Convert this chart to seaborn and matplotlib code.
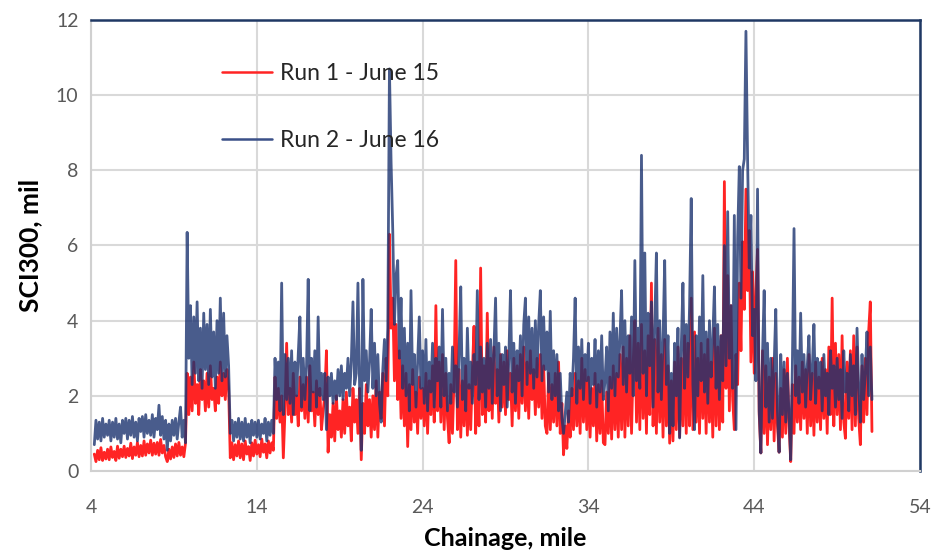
import numpy as np
import pandas as pd
import matplotlib
matplotlib.use("Agg")
import matplotlib.pyplot as plt
import seaborn as sns

# Chainage sampled every 0.1 mile, from 4.2 to 51.1
chainage_start = 4.2
chainage_step = 0.1

# SCI300 (mil), Run 1 - June 15; one row per mile
run1_sci = [
    0.45, 0.25, 0.55, 0.3, 0.62, 0.28, 0.5, 0.32,                  # 4.2-4.9
    0.58, 0.3, 0.64, 0.36, 0.52, 0.28, 0.66, 0.34, 0.58, 0.38,       # 5
    0.66, 0.36, 0.6, 0.4, 0.74, 0.33, 0.64, 0.42, 0.76, 0.38,        # 6
    0.68, 0.4, 0.8, 0.42, 0.72, 0.48, 0.82, 0.42, 0.74, 0.45,        # 7
    0.76, 0.42, 0.84, 0.48, 0.68, 0.38, 0.25, 0.58, 0.32, 0.64,      # 8
    0.36, 0.72, 0.4, 0.76, 0.42, 0.64, 0.38, 0.74, 2.6, 1.5,         # 9
    2.5, 1.6, 2.9, 1.8, 2.3, 1.5, 2.7, 1.9, 2.4, 1.6,                # 10
    2.6, 1.7, 2.8, 1.9, 2.2, 1.6, 2.5, 1.8, 2.9, 2.0,                # 11
    2.6, 1.9, 2.7, 2.2, 0.35, 0.75, 0.3, 0.7, 0.4, 0.8,              # 12
    0.35, 0.72, 0.3, 0.8, 0.45, 0.65, 0.28, 0.75, 0.4, 0.82,         # 13
    0.45, 0.7, 0.38, 0.85, 0.5, 0.72, 0.35, 0.8, 0.48, 0.75,         # 14
    0.55, 2.5, 1.4, 2.2, 1.3, 2.0, 0.35, 1.6, 3.4, 1.5,              # 15
    2.2, 1.3, 2.6, 1.5, 2.0, 1.2, 2.5, 1.6, 2.3, 1.4,                # 16
    2.5, 1.3, 2.8, 1.6, 2.1, 1.2, 2.4, 1.5, 2.2, 1.1,                # 17
    1.6, 2.0, 3.2, 0.5, 1.5, 0.9, 1.8, 0.8, 2.0, 1.1,                # 18
    1.6, 0.9, 1.9, 1.0, 2.1, 1.2, 1.7, 0.8, 2.2, 1.3,                # 19
    1.9, 1.0, 2.2, 0.3, 1.8, 1.0, 2.3, 1.2, 1.9, 0.9,                # 20
    2.0, 1.1, 2.4, 0.9, 2.1, 1.4, 2.6, 1.2, 3.0, 2.0,                # 21
    6.3, 3.8, 4.6, 2.4, 3.9, 1.9, 3.2, 1.4, 2.8, 1.2,                # 22
    2.6, 0.65, 2.3, 1.1, 2.7, 1.3, 2.1, 1.0, 2.5, 1.4,               # 23
    2.2, 1.2, 2.6, 1.0, 2.4, 1.5, 2.8, 1.3, 4.4, 1.6,                # 24
    2.9, 1.3, 3.1, 1.1, 2.6, 1.4, 0.75, 2.3, 1.0, 2.5,               # 25
    5.6, 1.1, 2.7, 0.9, 2.4, 1.2, 2.8, 0.95, 2.3, 1.1,               # 26
    2.6, 3.85, 1.0, 2.9, 1.2, 5.4, 1.5, 2.8, 1.3, 4.2,               # 27
    1.6, 3.0, 1.4, 3.3, 1.8, 2.7, 1.3, 3.1, 1.7, 2.9,                # 28
    1.5, 3.2, 1.9, 2.6, 1.2, 3.0, 1.6, 2.8, 1.4, 3.1,                # 29
    1.8, 3.3, 1.6, 2.9, 1.4, 3.2, 1.9, 2.7, 1.5, 3.0,                # 30
    1.7, 3.1, 1.4, 2.8, 1.2, 1.0, 2.6, 1.1, 2.3, 1.3,                # 31
    2.6, 1.2, 2.9, 1.0, 1.8, 0.43, 1.2, 0.6, 1.6, 0.9,               # 32
    2.2, 1.1, 2.6, 1.2, 2.4, 1.0, 3.0, 1.3, 2.7, 1.1,                # 33
    2.5, 0.9, 2.2, 1.2, 2.6, 0.8, 2.3, 1.0, 2.4, 0.75,               # 34
    0.7, 2.1, 1.0, 2.5, 0.85, 2.8, 1.1, 2.6, 0.9, 3.1,               # 35
    1.1, 3.3, 0.9, 3.0, 1.2, 3.6, 1.0, 2.9, 4.0, 1.3,                # 36
    3.4, 1.1, 3.9, 1.4, 3.2, 1.0, 3.6, 1.5, 5.0, 1.2,                # 37
    3.5, 1.0, 3.8, 1.3, 3.1, 0.9, 3.5, 1.2, 2.8, 0.74,               # 38
    2.4, 0.8, 2.9, 1.1, 3.3, 0.9, 3.0, 1.2, 3.6, 1.0,                # 39
    3.4, 1.2, 4.6, 1.1, 3.7, 1.3, 3.0, 1.0, 3.4, 1.4,                # 40
    3.1, 1.0, 3.5, 1.3, 2.9, 0.9, 3.8, 1.2, 3.3, 1.1,                # 41
    3.6, 1.3, 7.7, 2.2, 5.2, 1.6, 4.4, 1.9, 1.1, 3.1,                # 42
    2.3, 5.0, 3.2, 6.1, 4.3, 7.5, 4.8, 6.4, 2.9, 5.3,                # 43
    2.6, 4.8, 5.9, 1.5, 0.48, 3.2, 1.0, 2.8, 0.7, 2.5,               # 44
    1.1, 3.0, 0.8, 2.6, 1.2, 0.5, 2.2, 0.9, 2.7, 1.0,                # 45
    3.0, 1.2, 0.25, 2.3, 1.0, 2.8, 1.3, 2.5, 1.1, 2.9,               # 46
    1.4, 2.7, 1.0, 3.1, 1.2, 2.6, 0.95, 2.9, 1.3, 2.5,               # 47
    1.1, 3.0, 1.4, 2.7, 1.0, 3.3, 1.5, 4.6, 1.2, 3.4,                # 48
    1.5, 3.1, 1.1, 3.6, 1.3, 0.87, 2.9, 1.4, 3.2, 1.1,               # 49
    3.6, 1.2, 3.3, 1.4, 0.7, 2.8, 1.3, 3.0, 1.5, 3.7,                # 50
    4.5, 1.05,                                                       # 51.0-51.1
]

# SCI300 (mil), Run 2 - June 16; one row per mile
run2_sci = [
    0.7, 1.35, 0.85, 1.3, 0.8, 1.4, 0.9, 1.25,                       # 4.2-4.9
    0.95, 1.35, 0.8, 1.3, 0.9, 1.4, 0.85, 1.25, 0.75, 1.35,          # 5
    1.0, 1.4, 0.85, 1.35, 0.95, 1.45, 0.9, 1.3, 0.8, 1.4,            # 6
    1.05, 1.45, 0.9, 1.5, 1.0, 1.35, 0.95, 1.5, 0.9, 1.4,            # 7
    1.1, 1.75, 0.95, 1.45, 0.85, 1.35, 0.55, 1.25, 0.8, 1.35,        # 8
    0.95, 1.4, 0.85, 1.3, 1.7, 0.9, 1.35, 0.75, 6.35, 3.0,           # 9
    4.4, 2.3, 4.1, 2.6, 4.5, 2.4, 3.8, 2.2, 4.2, 2.7,                # 10
    3.9, 2.3, 4.3, 2.5, 3.7, 2.2, 4.0, 2.6, 4.6, 2.4,                # 11
    4.2, 2.5, 3.6, 2.8, 1.0, 1.35, 0.8, 1.3, 0.9, 1.4,               # 12
    0.85, 1.3, 0.8, 1.4, 0.9, 1.25, 0.75, 1.35, 0.95, 1.3,           # 13
    0.9, 1.35, 0.85, 1.25, 1.0, 1.4, 0.8, 1.3, 0.95, 1.35,           # 14
    1.0, 3.0, 1.9, 2.9, 1.6, 5.0, 1.5, 3.1, 1.9, 3.0,                # 15
    1.8, 3.2, 1.5, 2.9, 2.0, 3.1, 4.1, 1.7, 3.0, 1.9,                # 16
    2.8, 5.1, 1.6, 3.0, 2.1, 3.2, 1.7, 4.1, 2.0, 2.6,                # 17
    1.9, 2.6, 1.1, 2.5, 2.0, 2.6, 1.8, 2.4, 1.9, 2.7,                # 18
    2.0, 2.8, 1.9, 2.6, 2.2, 3.0, 2.0, 2.9, 4.5, 2.3,                # 19
    2.6, 5.0, 2.2, 0.55, 5.1, 2.4, 3.2, 2.1, 2.9, 4.3,               # 20
    2.2, 3.4, 2.0, 3.1, 1.8, 1.3, 2.7, 3.5, 2.4, 3.8,                # 21
    10.7, 8.2, 6.4, 3.9, 5.2, 5.6, 3.0, 4.6, 2.2, 3.8,               # 22
    2.0, 3.4, 1.6, 4.8, 2.3, 3.1, 1.7, 2.9, 4.1, 2.2,                # 23
    3.2, 1.8, 3.5, 1.6, 2.9, 2.1, 3.4, 1.7, 3.0, 2.4,                # 24
    3.3, 1.7, 4.3, 2.0, 3.0, 1.6, 2.6, 1.8, 3.3, 2.1,                # 25
    2.8, 1.7, 3.2, 4.9, 1.9, 3.0, 1.6, 3.8, 2.2, 2.9,                # 26
    1.8, 3.1, 2.3, 4.8, 1.9, 3.3, 2.1, 3.0, 1.7, 3.4,                # 27
    2.2, 3.5, 1.8, 3.2, 4.6, 2.0, 3.4, 1.6, 3.1, 2.3,                # 28
    3.3, 1.7, 3.0, 4.8, 2.1, 3.4, 1.8, 3.2, 2.4, 3.6,                # 29
    2.0, 3.9, 4.6, 2.3, 4.1, 2.6, 3.8, 2.2, 4.0, 2.5,                # 30
    3.9, 4.8, 2.4, 4.1, 2.7, 3.7, 2.1, 4.25, 1.9, 3.2,               # 31
    2.0, 3.1, 1.6, 2.6, 1.4, 1.0, 1.5, 2.1, 1.3, 2.6,                # 32
    2.0, 3.0, 4.6, 1.8, 3.3, 2.2, 3.5, 1.9, 3.1, 2.4,                # 33
    3.4, 1.8, 3.0, 2.3, 3.5, 1.7, 3.2, 2.1, 3.6, 1.9,                # 34
    2.4, 3.3, 1.6, 3.7, 2.2, 4.2, 2.0, 3.8, 2.5, 3.5,                # 35
    4.8, 2.3, 4.0, 2.1, 3.6, 2.6, 4.1, 2.0, 5.6, 2.4,                # 36
    3.8, 2.2, 8.4, 2.6, 5.8, 2.0, 4.2, 2.8, 4.5, 1.7,                # 37
    3.9, 5.8, 2.1, 4.0, 1.9, 3.5, 5.6, 2.3, 3.6, 1.0,                # 38
    2.6, 1.2, 3.4, 2.0, 3.8, 0.88, 3.3, 5.0, 2.2, 3.9,               # 39
    2.5, 4.4, 7.25, 2.3, 1.1, 3.6, 2.0, 4.1, 2.4, 5.2,               # 40
    2.1, 3.7, 1.8, 4.0, 2.5, 3.5, 4.9, 2.2, 3.9, 1.9,                # 41
    3.6, 2.4, 6.0, 2.8, 6.9, 3.0, 4.4, 2.2, 6.8, 1.1,                # 42
    6.2, 8.1, 4.6, 8.0, 8.3, 11.7, 8.3, 5.4, 6.8, 3.6,               # 43
    4.3, 2.4, 7.5, 1.6, 0.48, 3.1, 4.8, 1.7, 3.4, 1.3,               # 44
    3.0, 1.4, 2.8, 4.3, 1.6, 0.5, 3.1, 1.5, 2.9, 1.3,                # 45
    2.6, 1.5, 0.3, 2.8, 6.45, 2.0, 3.2, 1.8, 4.2, 2.1,               # 46
    3.1, 1.7, 2.8, 3.6, 1.9, 2.7, 3.9, 1.8, 3.0, 2.2,                # 47
    2.9, 1.6, 3.1, 2.0, 2.6, 1.5, 3.2, 2.2, 2.8, 1.7,                # 48
    3.0, 1.9, 2.7, 1.4, 3.2, 2.1, 2.6, 1.6, 3.1, 2.0,                # 49
    2.8, 1.5, 3.8, 2.2, 1.3, 3.1, 1.9, 2.6, 3.7, 2.0,                # 50
    3.3, 1.9,                                                        # 51.0-51.1
]

series_labels = ["Run 1 - June 15", "Run 2 - June 16"]
x_ticks = [4, 14, 24, 34, 44, 54]
y_ticks = [0, 2, 4, 6, 8, 10, 12]

chainage = np.round(chainage_start + chainage_step * np.arange(len(run1_sci)), 1)
df1 = pd.DataFrame({"Chainage": chainage, "SCI300": run1_sci})
df2 = pd.DataFrame({"Chainage": chainage, "SCI300": run2_sci})

sns.set_theme(style="white")
plt.rcParams["font.family"] = ["Lato", "DejaVu Sans"]

fig = plt.figure(figsize=(9.37, 5.57), dpi=100)
ax = fig.add_axes([0.0971, 0.1544, 0.8848, 0.8097])

sns.lineplot(data=df1, x="Chainage", y="SCI300", ax=ax, color="#FF2424",
             linewidth=2.0, estimator=None, sort=False, label=series_labels[0])
sns.lineplot(data=df2, x="Chainage", y="SCI300", ax=ax, color="#1C3370",
             linewidth=2.0, alpha=0.8, estimator=None, sort=False,
             label=series_labels[1])

ax.set_xlim(4, 54)
ax.set_ylim(0, 12)
ax.set_xticks(x_ticks)
ax.set_yticks(y_ticks)
ax.grid(True, color="#D9D9D9", linewidth=1.5)
ax.set_axisbelow(True)
ax.tick_params(axis="both", length=0, labelsize=14, labelcolor="#595959")
ax.tick_params(axis="x", pad=20)
ax.tick_params(axis="y", pad=9)

for side in ["left", "bottom"]:
    ax.spines[side].set_color("#D0D0D0")
    ax.spines[side].set_linewidth(1.5)
for side in ["top", "right"]:
    ax.spines[side].set_color("#1F3864")
    ax.spines[side].set_linewidth(1.8)

ax.set_xlabel("Chainage, mile", fontsize=18, fontweight="bold", color="black",
              labelpad=8)
ax.set_ylabel("SCI300, mil", fontsize=19, fontweight="bold", color="black",
              labelpad=10)

leg = ax.legend(loc="upper left", bbox_to_anchor=(0.133, 0.95), frameon=False,
                fontsize=16.5, handlelength=2.2, handletextpad=0.35,
                labelspacing=2.0)
for line in leg.get_lines():
    line.set_linewidth(1.8)
    line.set_alpha(1.0)
leg.get_lines()[1].set_color("#3A5088")

fig.savefig("out.png", dpi=100)
